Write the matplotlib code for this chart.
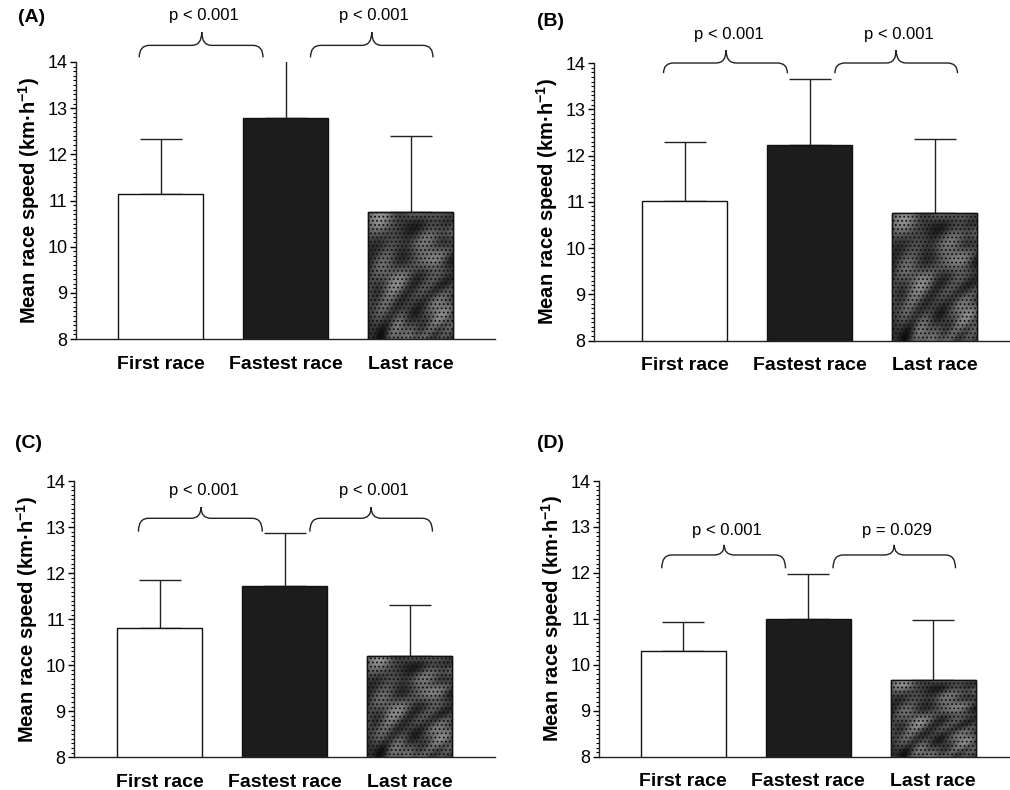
import numpy as np
import matplotlib
matplotlib.use("Agg")
import matplotlib.pyplot as plt
from matplotlib.path import Path
from matplotlib.patches import PathPatch
from matplotlib.ticker import MultipleLocator

plt.rcParams['font.family'] = ['Liberation Sans', 'DejaVu Sans']
plt.rcParams['mathtext.fontset'] = 'custom'
plt.rcParams['mathtext.rm'] = 'Liberation Sans'
plt.rcParams['mathtext.bf'] = 'Liberation Sans:bold'
plt.rcParams['hatch.color'] = '#111111'
plt.rcParams['hatch.linewidth'] = 0.8

categories = ["First race", "Fastest race", "Last race"]
panel_labels = ["(A)", "(B)", "(C)", "(D)"]

means_a = [11.13, 12.79, 10.75]
sd_a = [1.20, 1.26, 1.65]
means_b = [11.02, 12.23, 10.75]
sd_b = [1.28, 1.42, 1.61]
means_c = [10.80, 11.72, 10.21]
sd_c = [1.05, 1.14, 1.10]
means_d = [10.31, 11.00, 9.68]
sd_d = [0.63, 0.98, 1.29]

pvals_a = ["p < 0.001", "p < 0.001"]
pvals_b = ["p < 0.001", "p < 0.001"]
pvals_c = ["p < 0.001", "p < 0.001"]
pvals_d = ["p < 0.001", "p = 0.029"]

# (y of brace ends, y of brace line, y of brace tip, y of text) per panel
brace_levels = {
    "A": (14.10, 14.36, 14.65, 15.00),
    "B": (13.78, 14.00, 14.28, 14.62),
    "C": (12.90, 13.19, 13.43, 13.80),
    "D": (12.10, 12.39, 12.61, 12.92),
}

W, H = 1010, 790
fig = plt.figure(figsize=(W / 100, H / 100), dpi=100)


def rect(left, right, top, bottom):
    return [left / W, 1 - bottom / H, (right - left) / W, (bottom - top) / H]


panels = [
    ("A", rect(76, 495, 62, 339), (-0.676, 2.676), means_a, sd_a, pvals_a, (18, 17)),
    ("B", rect(594, 1010, 63, 340.7), (-0.726, 2.60), means_b, sd_b, pvals_b, (537, 22)),
    ("C", rect(74, 495, 481, 757.3), (-0.685, 2.68), means_c, sd_c, pvals_c, (15, 443)),
    ("D", rect(599, 1010, 481, 756.7), (-0.672, 2.616), means_d, sd_d, pvals_d, (537, 443)),
]

bar_faces = ["white", "#1c1c1c", "#3a3a3a"]

# mottled grey texture for the "Last race" bars
gy, gx = np.mgrid[0:1:160j, 0:1:90j]
mottle = (np.sin(9.0 * gx + 4.0 * gy) * np.cos(7.0 * gy - 3.0 * gx)
          + 0.6 * np.sin(17.0 * gy + 5.0 * gx) * np.sin(13.0 * gx)
          + 0.35 * np.cos(31.0 * gx * gy + 11.0 * gy))
mottle = (mottle - mottle.min()) / (mottle.max() - mottle.min())


def brace(ax, x0, x1, xt, y_end, y_line, y_tip, r=0.08):
    verts = [
        (x0, y_end), (x0, y_line), (x0 + r, y_line),
        (xt - r, y_line),
        (xt, y_line), (xt, y_tip),
        (xt, y_line), (xt + r, y_line),
        (x1 - r, y_line),
        (x1, y_line), (x1, y_end),
    ]
    codes = [Path.MOVETO, Path.CURVE3, Path.CURVE3,
             Path.LINETO,
             Path.CURVE3, Path.CURVE3,
             Path.CURVE3, Path.CURVE3,
             Path.LINETO,
             Path.CURVE3, Path.CURVE3]
    patch = PathPatch(Path(verts, codes), facecolor="none", edgecolor="#222222",
                      linewidth=1.0, clip_on=False)
    ax.add_patch(patch)


x = np.arange(len(categories))
for key, r, xlim, means, sds, pvals, lab in panels:
    ax = fig.add_axes(r)
    bars = ax.bar(x, means, width=0.68, color=bar_faces, edgecolor="#111111",
                  linewidth=1.0, zorder=2)
    last = bars[2]
    x0b, wb = last.get_x(), last.get_width()
    img = ax.imshow(mottle, cmap="gray", vmin=-0.1, vmax=1.8, aspect="auto",
                    extent=(x0b, x0b + wb, 8, means[2]), zorder=2.1,
                    interpolation="bilinear")
    img.set_clip_path(last)
    ax.bar([x[2]], [means[2]], width=0.68, color="none", edgecolor="#111111",
           linewidth=1.0, hatch="....", zorder=2.2)
    ax.errorbar(x, means, yerr=[np.zeros(3), sds], fmt="none", ecolor="#222222",
                elinewidth=1.0, capsize=15, capthick=1.0, zorder=1)
    ax.set_ylim(8, 14)
    ax.set_xlim(*xlim)
    ax.spines["top"].set_visible(False)
    ax.spines["right"].set_visible(False)
    for s in ("left", "bottom"):
        ax.spines[s].set_linewidth(1.0)
        ax.spines[s].set_color("#222222")
        ax.spines[s].set_zorder(3)
    ax.yaxis.set_major_locator(MultipleLocator(1))
    ax.yaxis.set_minor_locator(MultipleLocator(0.1))
    ax.tick_params(axis="y", which="major", length=4, width=1.0, labelsize=13, pad=2)
    ax.tick_params(axis="y", which="minor", length=2, width=0.8)
    ax.set_xticks(x)
    ax.set_xticklabels(categories, fontsize=14, fontweight="bold")
    ax.tick_params(axis="x", length=0, pad=12)
    ax.set_ylabel("Mean race speed (km·h$^{\\mathbf{-1}}$)", fontsize=14.5,
                  fontweight="bold", labelpad=4)
    ax.patch.set_visible(False)

    y_end, y_line, y_tip, y_txt = brace_levels[key]
    for (x0, x1, xt), ptxt in zip([(-0.17, 0.82, 0.33), (1.20, 2.18, 1.69)], pvals):
        brace(ax, x0, x1, xt, y_end, y_line, y_tip)
        ax.text(xt + 0.02, y_txt, ptxt, ha="center", va="center", fontsize=12,
                clip_on=False)

    fig.text(lab[0] / W, 1 - lab[1] / H, panel_labels["ABCD".index(key)],
             fontsize=14, fontweight="bold", ha="left", va="center")

fig.savefig("out.png", dpi=100)
